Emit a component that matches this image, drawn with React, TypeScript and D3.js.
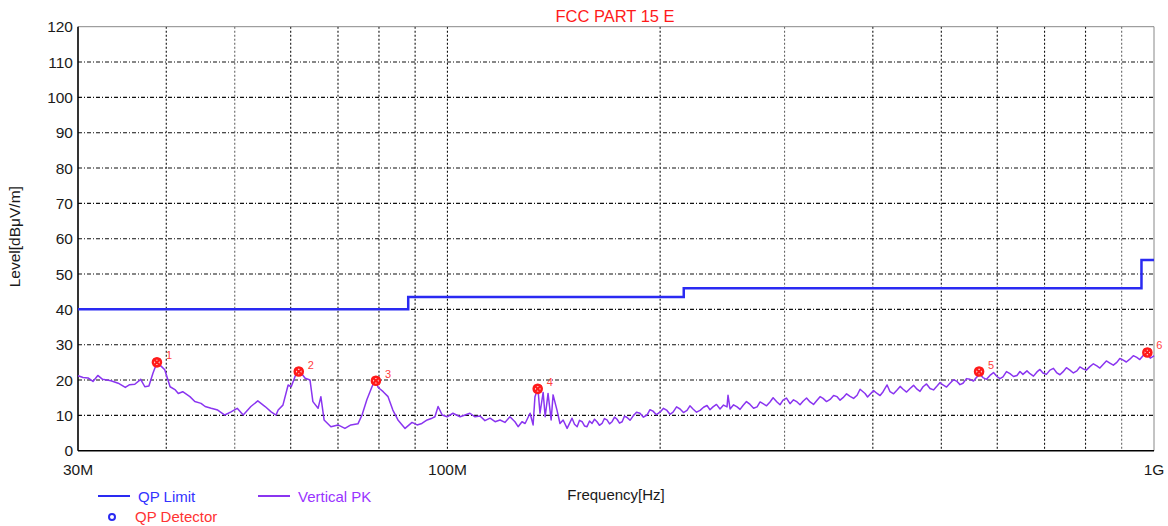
import { useEffect } from "react";
import * as d3 from "d3";

const WIDTH = 1168;
const HEIGHT = 526;
const MARGIN = { top: 26.7, right: 14, bottom: 75.3, left: 78 };

// QP limit (FCC part 15), step after each frequency
const limitFreq = [30, 88, 216, 960, 1000];
const limitLevel = [40, 43.5, 46, 54, 54];

// Vertical PK trace, MHz / dBuV/m
const pkFreq = [
    30.0, 30.5, 31.0, 31.5, 32.0, 32.5, 33.4, 34.2, 35.0, 35.5, 36.1, 36.8, 37.3, 37.8, 38.3, 38.7, 39.3, 39.8,
    40.5, 41.2, 41.6, 42.2, 43.2, 43.9, 44.8, 45.4, 46.3, 47.3, 48.4, 49.4, 50.4, 51.4, 52.7, 53.9, 55.2, 56.3,
    57.2, 57.6, 58.5, 59.5, 60.1, 61.1, 61.9, 62.9, 63.9, 64.5, 65.6, 66.2, 66.9, 68.4, 70.0, 71.6, 73.0, 74.7,
    75.7, 76.9, 78.2, 79.0, 79.8, 81.1, 82.4, 83.7, 85.1, 87.1, 89.1, 90.6, 92.0, 93.6, 95.1, 96.0, 97.0, 98.3,
    99.9, 101.8, 104.2, 105.9, 107.6, 109.4, 111.2, 113.0, 114.9, 116.8, 118.7, 120.6, 122.6, 124.6, 125.9,
    127.5, 128.8, 130.9, 132.2, 133.0, 134.3, 135.2, 136.6, 137.5, 138.8, 140.2, 141.1, 142.9, 144.3, 145.8,
    147.7, 150.1, 151.3, 152.6, 153.8, 155.1, 156.3, 157.6, 158.9, 160.2, 161.5, 162.8, 164.1, 165.5, 166.8,
    168.2, 169.6, 171.0, 172.4, 173.8, 175.2, 176.7, 178.1, 179.6, 181.3, 183.1, 185.2, 187.3, 189.4, 191.6,
    193.5, 195.4, 197.6, 199.9, 202.2, 204.5, 206.5, 208.6, 211.0, 213.4, 215.8, 218.3, 220.4, 222.6, 225.2,
    227.8, 230.4, 233.0, 235.3, 237.6, 240.3, 243.1, 245.9, 248.7, 249.5, 251.2, 254.1, 257.0, 259.5, 262.0,
    265.0, 268.1, 271.2, 274.3, 277.0, 279.7, 282.9, 286.1, 289.0, 292.7, 295.6, 298.5, 301.9, 305.4, 308.9,
    312.5, 315.5, 318.6, 322.3, 326.0, 329.7, 333.5, 336.8, 340.1, 344.0, 348.0, 352.0, 356.0, 359.5, 363.0,
    367.2, 371.4, 375.7, 380.0, 383.7, 390.0, 393.2, 396.4, 401.0, 405.6, 409.6, 413.6, 419.0, 423.1, 428.0,
    432.9, 437.2, 441.5, 446.5, 451.6, 456.8, 462.0, 466.5, 471.1, 476.5, 482.0, 487.5, 493.1, 498.0, 502.8,
    508.6, 514.4, 520.3, 526.3, 531.4, 536.6, 542.8, 549.0, 555.3, 561.7, 567.2, 572.7, 579.3, 585.9, 592.7,
    599.5, 605.4, 611.3, 618.3, 625.4, 632.6, 639.8, 646.1, 652.4, 661.0, 667.5, 675.2, 682.9, 689.6, 696.3,
    704.3, 712.4, 720.6, 728.8, 735.9, 743.1, 751.7, 760.3, 769.0, 777.8, 785.4, 793.1, 802.2, 811.4, 820.7,
    830.1, 838.3, 846.5, 856.2, 866.0, 875.9, 885.9, 894.6, 903.4, 913.8, 924.2, 934.8, 945.5, 954.8, 964.1,
    972.0, 980.0, 988.0, 996.1, 1000,
];
const pkLevel = [
    21.2, 20.7, 20.6, 19.6, 21.3, 20.2, 19.8, 19.1, 17.9, 18.7, 18.8, 20.2, 18.1, 18.3, 21.9, 24.3, 24.0, 22.9,
    18.1, 17.2, 16.2, 16.7, 15.3, 13.9, 13.4, 12.5, 12.0, 11.5, 10.1, 11.0, 12.0, 10.1, 12.5, 14.1, 12.5, 11.0,
    10.1, 11.5, 12.9, 18.6, 18.1, 21.9, 22.3, 20.5, 20.0, 13.9, 12.0, 15.3, 8.7, 6.8, 7.3, 6.3, 7.3, 7.6,
    10.1, 14.4, 18.1, 20.0, 17.9, 16.7, 15.3, 11.5, 8.7, 6.3, 8.0, 7.3, 7.7, 8.7, 9.2, 9.6, 12.5, 10.1,
    9.6, 10.6, 9.6, 10.1, 10.6, 9.6, 9.8, 8.5, 9.2, 8.2, 8.7, 8.0, 9.6, 8.2, 6.8,
    8.2, 7.7, 10.6, 7.3, 15.3, 17.6, 10.6, 16.5, 9.6, 16.2, 8.7, 15.8, 11.5, 7.7, 8.7,
    6.3, 9.2, 7.5, 6.8, 8.6, 8.2, 7.0, 6.8, 8.4, 7.7, 8.9, 8.2, 7.2, 7.7, 9.1,
    8.7, 7.6, 8.2, 9.5, 8.9, 7.8, 8.2, 9.8, 9.4, 8.6, 9.8, 10.9, 10.6, 9.5, 10.1,
    11.6, 11.2, 10.2, 10.9, 12.0, 11.4, 10.3, 10.9, 12.4, 11.8, 10.8, 11.4, 12.7, 11.8, 10.9,
    11.4, 12.3, 12.8, 11.6, 12.4, 13.1, 11.8, 12.9, 12.4, 15.7, 11.8, 13.0, 12.4, 11.7, 12.8,
    13.9, 13.1, 12.0, 12.4, 13.8, 13.3, 12.7, 13.8, 15.0, 13.8, 13.0, 14.3, 14.9, 13.3, 14.4,
    13.8, 13.0, 14.0, 14.9, 13.8, 13.1, 14.3, 15.3, 14.8, 13.9, 14.5, 15.6, 15.3, 14.3, 15.0,
    16.1, 15.4, 14.8, 15.7, 17.4, 16.2, 15.2, 16.0, 17.0, 16.2, 15.6, 16.7, 18.6, 16.7, 16.1,
    17.2, 18.2, 17.4, 16.6, 17.6, 18.5, 17.4, 16.8, 18.1, 18.9, 17.6, 17.2, 18.3, 19.3, 18.6,
    18.0, 19.1, 20.1, 19.6, 18.7, 19.1, 20.4, 20.2, 19.7, 20.9, 21.6, 20.7, 20.2, 21.3, 22.1,
    21.0, 20.4, 20.9, 22.4, 21.8, 21.0, 21.3, 22.4, 21.6, 22.6, 21.8, 21.1, 22.3, 23.0, 22.0,
    21.6, 22.8, 23.3, 22.0, 21.5, 22.3, 23.5, 22.8, 22.0, 22.6, 23.7, 23.2, 22.8, 23.8, 24.6,
    24.0, 23.4, 24.3, 25.4, 24.8, 24.2, 25.0, 26.1, 25.7, 25.1, 25.9, 26.9, 26.4, 25.8, 26.8,
    27.6, 27.1, 26.2, 26.6, 26.9,
];

// final peak markers
const markerFreq = [38.8, 61.6, 79.2, 134.2, 565.5, 978.6];
const markerLevel = [25.0, 22.4, 19.8, 17.5, 22.4, 27.8];
const markerLabels = ["1", "2", "3", "4", "5", "6"];

const yTicks = [0, 10, 20, 30, 40, 50, 60, 70, 80, 90, 100, 110, 120];
const xGridTicks = [40, 50, 60, 70, 80, 90, 100, 200, 300, 400, 500, 600, 700, 800, 900];
const xTickLabels = [
    { f: 30, label: "30M" },
    { f: 100, label: "100M" },
    { f: 1000, label: "1G" },
];

const FONT = "'Liberation Sans', Arial, sans-serif";

export default function App() {
    useEffect(() => {
        document.body.style.margin = "0";
    }, []);

    const x = d3.scaleLog().domain([30, 1000]).range([MARGIN.left, WIDTH - MARGIN.right]);
    const y = d3.scaleLinear().domain([0, 120]).range([HEIGHT - MARGIN.bottom, MARGIN.top]);

    const limitPath = d3
        .line<number>()
        .x((_, i) => x(limitFreq[i]))
        .y((d) => y(d))
        .curve(d3.curveStepAfter)(limitLevel);

    const pkPath = d3
        .line<number>()
        .x((_, i) => x(pkFreq[i]))
        .y((d) => y(d))(pkLevel);

    const x0 = x(30);
    const x1 = x(1000);
    const y0 = y(0);
    const y1 = y(120);

    return (
        <svg width={WIDTH} height={HEIGHT} style={{ display: "block", background: "#fff" }}>
            <text x={615} y={22} textAnchor="middle" fill="#ff1a1a" fontFamily={FONT} fontSize={16.5}>
                FCC PART 15 E
            </text>

            {/* grid */}
            {yTicks.slice(1, -1).map((t) => (
                <line key={"h" + t} x1={x0} x2={x1} y1={y(t)} y2={y(t)} stroke="#111" strokeWidth={1.1} strokeDasharray="4,2,1,2" />
            ))}
            {xGridTicks.map((f) => (
                <line
                    key={"v" + f}
                    x1={x(f)}
                    x2={x(f)}
                    y1={y1}
                    y2={y0}
                    stroke={f === 50 || f === 300 || f === 900 ? "#666" : "#111"}
                    strokeWidth={1.1}
                    strokeDasharray="2,2"
                />
            ))}

            {/* frame */}
            <line x1={x0} x2={x1} y1={y1} y2={y1} stroke="#888" strokeWidth={1} />
            <line x1={x1} x2={x1} y1={y1} y2={y0} stroke="#888" strokeWidth={1} />
            <line x1={x0} x2={x0} y1={y1} y2={y0} stroke="#000" strokeWidth={1.6} />
            <line x1={x0} x2={x1} y1={y0} y2={y0} stroke="#000" strokeWidth={1.6} />

            {/* y labels */}
            {yTicks.map((t) => (
                <text key={"yl" + t} x={73} y={y(t)} dy="0.36em" textAnchor="end" fill="#1a1a1a" fontFamily={FONT} fontSize={15.5}>
                    {t}
                </text>
            ))}
            {xTickLabels.map((d) => (
                <text key={"xl" + d.f} x={x(d.f)} y={475} textAnchor="middle" fill="#1a1a1a" fontFamily={FONT} fontSize={15.5}>
                    {d.label}
                </text>
            ))}
            <text x={616} y={500} textAnchor="middle" fill="#1a1a1a" fontFamily={FONT} fontSize={15}>
                Frequency[Hz]
            </text>
            <text
                transform={`translate(20,${(y0 + y1) / 2 - 2}) rotate(-90)`}
                textAnchor="middle"
                fill="#1a1a1a"
                fontFamily={FONT}
                fontSize={15.5}
            >
                Level[dBμV/m]
            </text>

            {/* series */}
            <path d={limitPath as string} fill="none" stroke="#2a2af2" strokeWidth={2.5} />
            <path d={pkPath as string} fill="none" stroke="#8a35f0" strokeWidth={1.5} strokeLinejoin="round" />

            {/* markers */}
            {markerFreq.map((f, i) => {
                const cx = x(f);
                const cy = y(markerLevel[i]);
                return (
                    <g key={"m" + i}>
                        <circle cx={cx} cy={cy} r={4} fill="#fff" stroke="#ff1a1a" strokeWidth={2.6} />
                        <line x1={cx - 3.6} x2={cx + 3.6} y1={cy - 3.6} y2={cy + 3.6} stroke="#ff1a1a" strokeWidth={2.2} />
                        <line x1={cx - 3.6} x2={cx + 3.6} y1={cy + 3.6} y2={cy - 3.6} stroke="#ff1a1a" strokeWidth={2.2} />
                        <text x={cx + 9} y={cy - 3} fill="#ff4040" fontFamily={FONT} fontSize={11}>
                            {markerLabels[i]}
                        </text>
                    </g>
                );
            })}

            {/* legend */}
            <line x1={98} x2={130} y1={496} y2={496} stroke="#2a2af2" strokeWidth={2} />
            <text x={138} y={502} fill="#3333ff" fontFamily={FONT} fontSize={15}>
                QP Limit
            </text>
            <line x1={258} x2={290} y1={496} y2={496} stroke="#8a35f0" strokeWidth={2} />
            <text x={298} y={502} fill="#9933ff" fontFamily={FONT} fontSize={15}>
                Vertical PK
            </text>
            <circle cx={112} cy={517} r={3} fill="none" stroke="#2a2af2" strokeWidth={2} />
            <text x={135} y={522} fill="#ff3333" fontFamily={FONT} fontSize={15}>
                QP Detector
            </text>
        </svg>
    );
}
